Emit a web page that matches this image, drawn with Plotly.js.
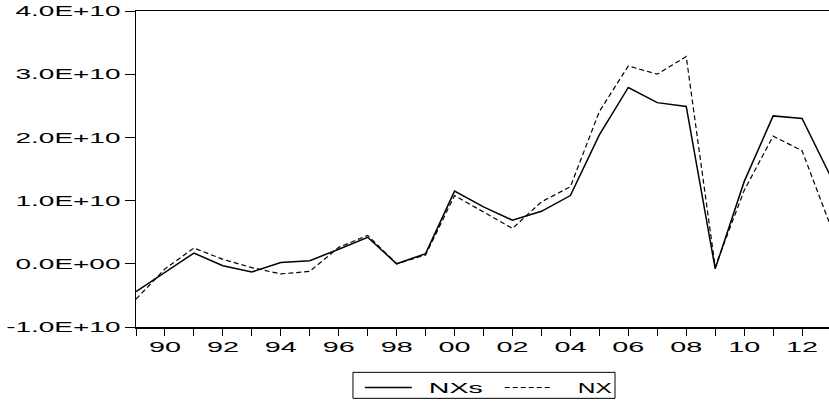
<!DOCTYPE html>
<html>
<head>
<meta charset="utf-8">
<script src="https://cdn.plot.ly/plotly-3.0.1.min.js"></script>
<style>
  html, body { margin: 0; padding: 0; background: #fff; overflow: hidden; }
  #chart { width: 829px; height: 403px; }
</style>
</head>
<body>
<div id="chart"></div>
<script>
// ---- data (values in units of 1E+10) ----
const years = [1989, 1990, 1991, 1992, 1993, 1994, 1995, 1996, 1997, 1998, 1999, 2000,
               2001, 2002, 2003, 2004, 2005, 2006, 2007, 2008, 2009, 2010, 2011, 2012, 2013];
const nxs = [-0.44, -0.13, 0.17, -0.03, -0.13, 0.02, 0.05, 0.23, 0.42, 0.00, 0.16, 1.15,
             0.90, 0.69, 0.83, 1.08, 2.04, 2.79, 2.55, 2.49, -0.08, 1.30, 2.34, 2.30, 1.37];
const nx  = [-0.56, -0.08, 0.25, 0.07, -0.06, -0.16, -0.12, 0.26, 0.45, 0.00, 0.14, 1.08,
             0.82, 0.56, 0.98, 1.22, 2.41, 3.13, 3.00, 3.28, -0.05, 1.16, 2.02, 1.79, 0.58];
const unit = 1e10;
const yTickVals = [-1e10, 0, 1e10, 2e10, 3e10, 4e10];
const yTickText = ['-1.0E+10', '0.0E+00', '1.0E+10', '2.0E+10', '3.0E+10', '4.0E+10'];
const xTickVals = years.slice(0, 24);
const xTickText = xTickVals.map(y => (y % 2 === 0 ? String(y).slice(2) : ''));
const seriesNames = ['NXs', 'NX'];

const font = { family: 'Liberation Sans', size: 15, color: '#000' };

const traces = [
  { x: years, y: nxs.map(v => v * unit), name: seriesNames[0], type: 'scatter', mode: 'lines',
    line: { color: '#000', width: 1.5 } },
  { x: years, y: nx.map(v => v * unit), name: seriesNames[1], type: 'scatter', mode: 'lines',
    line: { color: '#000', width: 1.2, dash: '5px,3px' } }
];

const layout = {
  width: 829, height: 403,
  margin: { l: 136, r: 0, t: 11, b: 76, pad: 0, autoexpand: false },
  paper_bgcolor: '#fff', plot_bgcolor: '#fff',
  font: font,
  showlegend: true,
  xaxis: {
    range: [1989, 2012.93], showgrid: false, zeroline: false,
    showline: true, linecolor: '#000', linewidth: 1.5, mirror: true,
    tickmode: 'array', tickvals: xTickVals, ticktext: xTickText,
    ticks: 'outside', ticklen: 7, tickwidth: 1, tickcolor: '#000',
    ticklabelstandoff: -2,
    tickfont: font
  },
  yaxis: {
    range: [-1e10, 4e10], showgrid: false, zeroline: false,
    showline: true, linecolor: '#000', linewidth: 1.5, mirror: false,
    tickmode: 'array', tickvals: yTickVals, ticktext: yTickText,
    ticks: 'outside', ticklen: 10, tickwidth: 1, tickcolor: '#000',
    ticklabelstandoff: 1,
    tickfont: font
  },
  legend: {
    orientation: 'h', x: 0.323, xanchor: 'left', y: -0.14, yanchor: 'top',
    borderwidth: 0, bgcolor: 'rgba(0,0,0,0)',
    font: { family: font.family, size: 15, color: '#000' },
    itemwidth: 47, entrywidth: 78, entrywidthmode: 'pixels'
  },
  shapes: [{
    type: 'rect', xref: 'paper', yref: 'paper',
    x0: 0.3131, x1: 0.6912, y0: -0.1435, y1: -0.2258,
    line: { color: '#000', width: 1 }, fillcolor: 'rgba(0,0,0,0)'
  }]
};

// widen text glyphs like the reference (which has horizontally stretched lettering)
function stretch(sel, refText, refWidth) {
  const els = Array.from(document.querySelectorAll(sel));
  const ref = els.find(e => e.textContent === refText);
  if (!ref) return;
  const factor = refWidth / ref.getComputedTextLength();
  els.forEach(el => {
    const w = el.getComputedTextLength();
    if (w > 0) {
      el.setAttribute('textLength', (w * factor).toFixed(1));
      el.setAttribute('lengthAdjust', 'spacingAndGlyphs');
    }
  });
}

// legend label widths and extra gap after the line sample, as in the reference
const legendTextStyle = { NXs: { width: 54, gap: 12 }, NX: { width: 34, gap: 21 } };

Plotly.newPlot('chart', traces, layout, { staticPlot: true, displayModeBar: false }).then(() => {
  stretch('.ytick text', '4.0E+10', 105);
  stretch('.xtick text', '90', 32);
  document.querySelectorAll('.legendtext').forEach(el => {
    const s = legendTextStyle[el.textContent];
    if (!s) return;
    el.setAttribute('textLength', s.width);
    el.setAttribute('lengthAdjust', 'spacingAndGlyphs');
    const x = parseFloat(el.getAttribute('x') || '0');
    el.setAttribute('x', x + s.gap);
  });
});
</script>
</body>
</html>
